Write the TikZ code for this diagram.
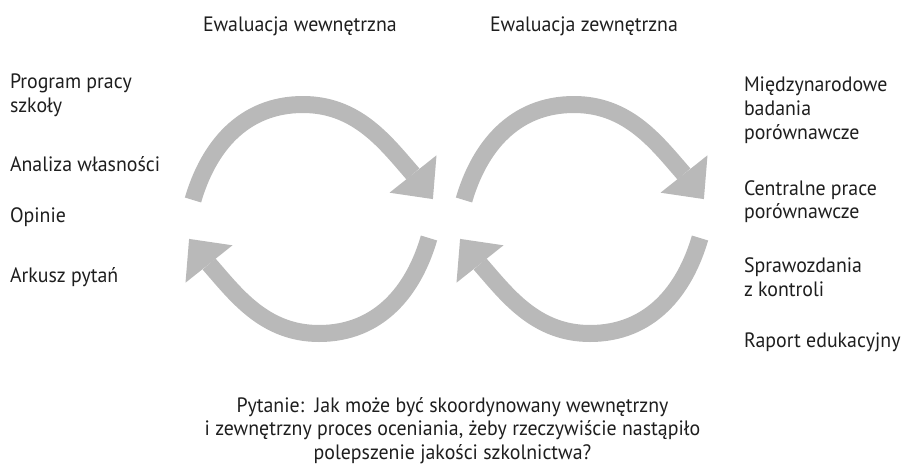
\documentclass[tikz,border=0pt]{standalone}
\usepackage{fontspec}
\setmainfont{PT Sans}[FakeStretch=0.955]
\definecolor{loopgray}{RGB}{185,185,185}
\definecolor{inkc}{RGB}{30,30,30}
\tikzset{
  label text/.style={inner sep=0pt, outer sep=0pt, text=inkc, align=left,
    font=\fontsize{20.8}{23.7}\selectfont},
  shaft/.style={draw=loopgray, line width=17pt, line cap=butt},
  head/.style={fill=loopgray},
  % one curved arrow: tail, peak, head base and tip around the loop centre
  loop arrow/.pic={
    \draw[shaft] (-118,-19) .. controls (-102.6,-71.8) and (-68,-114.5) .. (-8,-114.5)
                 .. controls (47,-114.5) and (75.6,-75) .. (102,-45);
    \fill[head] (121.9,-19.9) -- (125.5,-63.7) -- (78.5,-26.3) -- cycle;
  }
}
\begin{document}
\begin{tikzpicture}[x=1pt, y=-1pt]
\path[use as bounding box] (0,0) rectangle (903,469);

% inner and outer evaluation loops
\coordinate (innerC) at (311,219);
\coordinate (outerC) at (582,219);
\pic[shift={(innerC)}] {loop arrow};
\pic[shift={(innerC)}, rotate=180] {loop arrow};
\pic[shift={(outerC)}] {loop arrow};
\pic[shift={(outerC)}, rotate=180] {loop arrow};

% headings
\node[label text, anchor=base west] (hin) at (203,31.7) {Ewaluacja wewnętrzna};
\node[label text, anchor=base west] (hout) at (490,31.7) {Ewaluacja zewnętrzna};

% internal sources (base = baseline of the last line)
\node[label text, anchor=base west] (l1) at (10,112) {Program pracy\\szkoły};
\node[label text, anchor=base west] (l2) at (10,171) {Analiza własności};
\node[label text, anchor=base west] (l3) at (10,222) {Opinie};
\node[label text, anchor=base west] (l4) at (10,282.3) {Arkusz pytań};

% external sources
\node[label text, anchor=base west] (r1) at (744,139.1) {Międzynarodowe\\badania\\porównawcze};
\node[label text, anchor=base west] (r2) at (744,218.7) {Centralne prace\\porównawcze};
\node[label text, anchor=base west] (r3) at (744,296.4) {Sprawozdania\\z kontroli};
\node[label text, anchor=base west] (r4) at (744,347.7) {Raport edukacyjny};

% question
\node[label text, align=center, anchor=base] (q) at (452.5,459.6)
  {Pytanie:\ \ Jak może być skoordynowany wewnętrzny\\i zewnętrzny proces oceniania, żeby rzeczywiście nastąpiło\\polepszenie jakości szkolnictwa?};
\end{tikzpicture}
\end{document}
